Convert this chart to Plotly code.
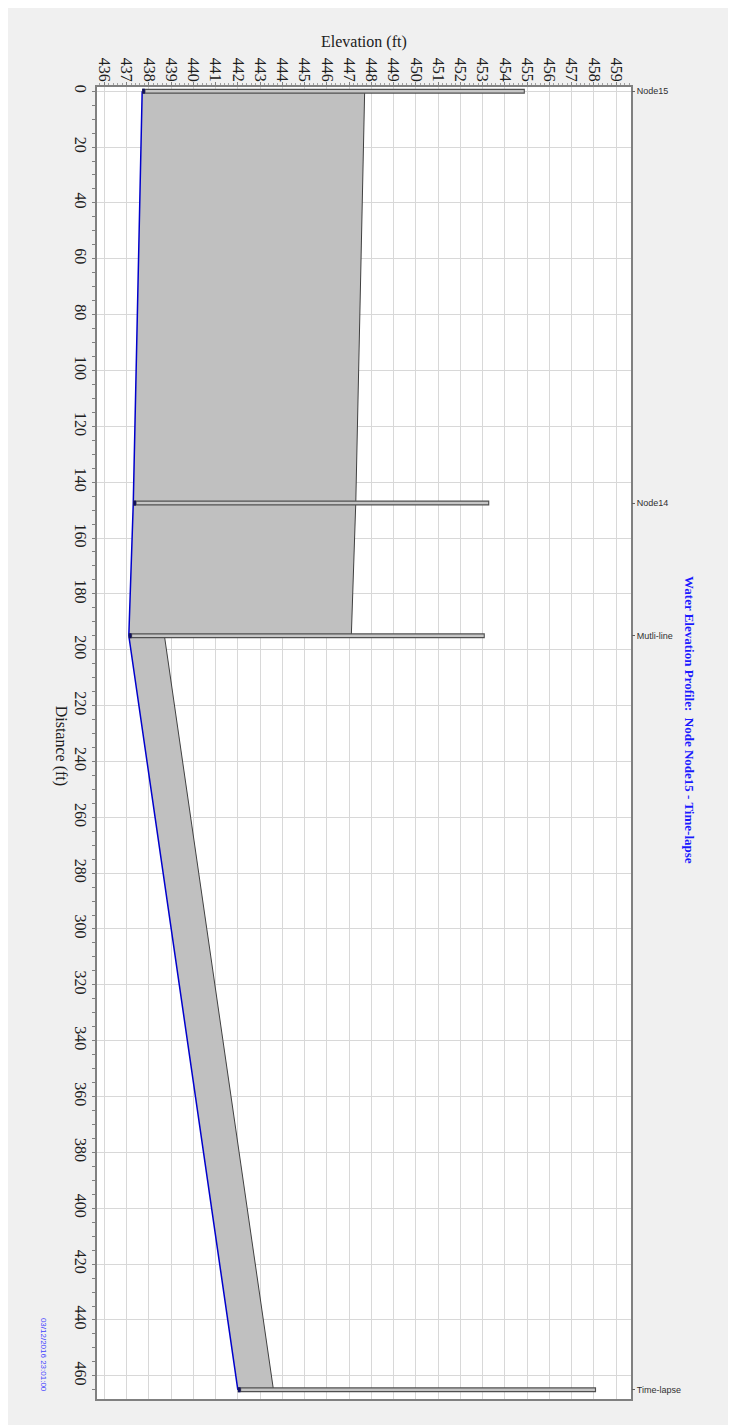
import plotly.graph_objects as go

# nodes along the profile
node_names = ["Node15", "Node14", "Mutli-line", "Time-lapse"]
node_dist = [0, 147.5, 195, 465]
node_invert = [437.7, 437.3, 437.1, 442.0]
node_rim = [454.9, 453.3, 453.1, 458.1]

# links between nodes
link_from = [0, 1, 2]
link_to = [1, 2, 3]
link_diam = [10.0, 10.0, 1.6]

# water surface at each node
water_level = [437.7, 437.3, 437.1, 442.0]

elev_ticks = list(range(436, 460))
dist_ticks = list(range(0, 461, 20))

fig = go.Figure()

# pipes: filled between invert and crown
for a, b, d in zip(link_from, link_to, link_diam):
    xs = [node_invert[a], node_invert[b], node_invert[b] + d, node_invert[a] + d, node_invert[a]]
    ys = [node_dist[a], node_dist[b], node_dist[b], node_dist[a], node_dist[a]]
    fig.add_trace(go.Scatter(x=xs, y=ys, fill="toself", fillcolor="#c0c0c0",
                             mode="none", hoverinfo="skip", showlegend=False))
    fig.add_trace(go.Scatter(x=[node_invert[a] + d, node_invert[b] + d],
                             y=[node_dist[a], node_dist[b]], mode="lines",
                             line=dict(color="#404040", width=1),
                             hoverinfo="skip", showlegend=False))

# water line
fig.add_trace(go.Scatter(x=water_level, y=node_dist, mode="lines",
                         line=dict(color="#0000cc", width=1.5),
                         showlegend=False))

# manholes as thin bars from invert to rim
for i in range(len(node_names)):
    fig.add_trace(go.Scatter(x=[node_invert[i], node_rim[i]], y=[node_dist[i], node_dist[i]],
                             mode="lines", line=dict(color="#505050", width=5),
                             hoverinfo="skip", showlegend=False))
    fig.add_trace(go.Scatter(x=[node_invert[i] + 0.15, node_rim[i] - 0.05],
                             y=[node_dist[i], node_dist[i]],
                             mode="lines", line=dict(color="#c6c6c6", width=2.5),
                             name=node_names[i], showlegend=False))
    fig.add_trace(go.Scatter(x=[node_invert[i], node_invert[i] + 0.12],
                             y=[node_dist[i], node_dist[i]],
                             mode="lines", line=dict(color="#101060", width=5),
                             hoverinfo="skip", showlegend=False))

# invisible trace to carry the node-name axis on the right
fig.add_trace(go.Scatter(x=node_rim, y=node_dist, yaxis="y2", mode="markers",
                         marker=dict(opacity=0), hoverinfo="skip", showlegend=False))

serif = "Liberation Serif"
drange = [468.3, -1.5]

fig.update_layout(
    width=736, height=1425,
    margin=dict(l=89, r=113, t=79, b=34, autoexpand=False),
    paper_bgcolor="#f0f0f0", plot_bgcolor="white",
    xaxis=dict(
        side="top", range=[435.67, 459.67], tickvals=elev_ticks, tickangle=90,
        tickfont=dict(family=serif, size=16, color="#202020"),
        ticklabelstandoff=-5,
        showgrid=True, gridcolor="#d8d8d8", gridwidth=1,
        showline=True, linecolor="#808080", linewidth=1.5, mirror=True,
        ticks="outside", ticklen=3, tickcolor="#808080",
        minor=dict(dtick=0.2, ticks="outside", ticklen=2, tickcolor="#a0a0a0", showgrid=False),
        zeroline=False,
    ),
    yaxis=dict(
        range=drange, tickvals=dist_ticks, tickangle=90,
        tickfont=dict(family=serif, size=16, color="#202020"),
        ticklabelstandoff=-2,
        showgrid=True, gridcolor="#d8d8d8", gridwidth=1,
        showline=True, linecolor="#808080", linewidth=1.5, mirror=True,
        ticks="outside", ticklen=3, tickcolor="#808080",
        minor=dict(dtick=5, ticks="outside", ticklen=3, tickcolor="#808080", showgrid=False),
        zeroline=False,
    ),
    yaxis2=dict(
        overlaying="y", side="right", anchor="x", range=drange,
        tickvals=node_dist, ticktext=node_names, tickangle=0,
        tickfont=dict(family="Liberation Sans", size=9, color="#303030"),
        ticks="outside", ticklen=3, tickcolor="#606060",
        showgrid=False, zeroline=False, showline=False,
    ),
    annotations=[
        dict(text="Elevation (ft)", xref="paper", yref="paper", x=0.5, y=1.0343,
             xanchor="center", yanchor="middle", showarrow=False,
             font=dict(family=serif, size=16, color="#202020")),
        dict(text="Distance (ft)", xref="paper", yref="paper", x=-0.0675, y=0.498,
             xanchor="center", yanchor="middle", textangle=90, showarrow=False,
             font=dict(family=serif, size=16, color="#202020")),
        dict(text="<b>Water Elevation Profile:  Node Node15 - Time-lapse</b>",
             xref="paper", yref="paper", x=1.1105, y=0.5175, textangle=90,
             xanchor="center", yanchor="middle",
             showarrow=False, font=dict(family=serif, size=13, color="#1a1aff")),
        dict(text="03/12/2016 23:01:00", xref="paper", yref="paper", x=-0.099, y=0.0335,
             xanchor="center", yanchor="middle", textangle=90, showarrow=False,
             font=dict(family="Liberation Sans", size=8, color="#4040ff")),
    ],
)

fig.write_html("out.html")
